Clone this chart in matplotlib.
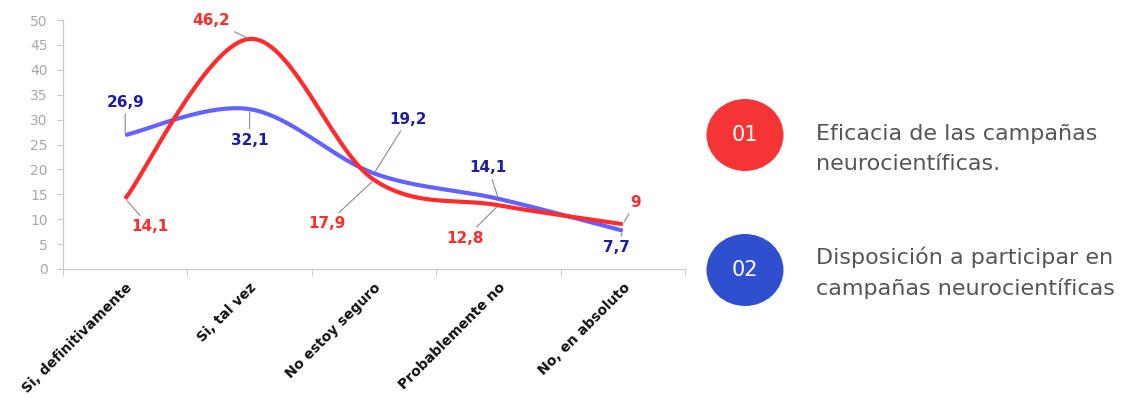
import numpy as np
import matplotlib
matplotlib.use("Agg")
import matplotlib.pyplot as plt
from matplotlib.patches import Ellipse

categories = ["Si, definitivamente", "Si, tal vez", "No estoy seguro", "Probablemente no", "No, en absoluto"]
eficacia = [14.1, 46.2, 17.9, 12.8, 9]
disposicion = [26.9, 32.1, 19.2, 14.1, 7.7]
eficacia_labels = ["14,1", "46,2", "17,9", "12,8", "9"]
disposicion_labels = ["26,9", "32,1", "19,2", "14,1", "7,7"]
legend_texts = ["Eficacia de las campañas\nneurocientíficas.", "Disposición a participar en\ncampañas neurocientíficas"]

RED = "#ff2a2a"
BLUE_LINE = "#6262ff"
BLUE_TXT = "#1c1ca6"
GRAY = "#c8c8c8"


def smooth(xs, ys, n=40):
    xs = np.asarray(xs, float)
    ys = np.asarray(ys, float)
    P = np.column_stack([xs, ys])
    out = []
    for i in range(len(P) - 1):
        p0 = P[i - 1] if i > 0 else P[i]
        p1 = P[i]
        p2 = P[i + 1]
        p3 = P[i + 2] if i + 2 < len(P) else P[i + 1]
        c1 = p1 + (p2 - p0) / 6.0
        c2 = p2 - (p3 - p1) / 6.0
        t = np.linspace(0, 1, n)[:, None]
        seg = (1 - t) ** 3 * p1 + 3 * (1 - t) ** 2 * t * c1 + 3 * (1 - t) * t ** 2 * c2 + t ** 3 * p2
        out.append(seg if i == 0 else seg[1:])
    S = np.vstack(out)
    return S[:, 0], S[:, 1]


fig = plt.figure(figsize=(11.26, 3.98), dpi=100)
ax = fig.add_axes([63 / 1126, 1 - 269 / 398, (685 - 63) / 1126, (269 - 20) / 398])

x = np.arange(len(categories))
sx, sy = smooth(x, disposicion)
ax.plot(sx, sy, color=BLUE_LINE, lw=3, solid_capstyle="butt", zorder=3)
sx, sy = smooth(x, eficacia)
ax.plot(sx, sy, color=RED, lw=3, solid_capstyle="butt", zorder=4)

ax.set_xlim(-0.5, len(categories) - 0.5)
ax.set_ylim(0, 50)
ax.set_yticks(np.arange(0, 51, 5))
ax.set_xticks(x)
ax.set_xticklabels(categories, rotation=45, ha="right", rotation_mode="anchor",
                   fontsize=10, fontweight="bold", color="#111111")
ax.set_xticks(np.arange(-0.5, len(categories), 1), minor=True)
ax.tick_params(axis="x", which="major", length=0, pad=8)
ax.tick_params(axis="x", which="minor", length=5, color=GRAY)
ax.tick_params(axis="y", length=4, color=GRAY, labelcolor="#a8a8a8", labelsize=10, pad=7)
for s in ["top", "right"]:
    ax.spines[s].set_visible(False)
for s in ["left", "bottom"]:
    ax.spines[s].set_color(GRAY)

red_offsets = [(25, -28), (-38, 18), (-47, -44), (-33, -33), (13, 22)]
blue_offsets = [(0, 33), (0, -31), (34, 54), (-10, 31), (-6, -17)]
ap = dict(arrowstyle="-", color="#8a8a8a", lw=0.8, shrinkA=1, shrinkB=2)
for i in range(len(categories)):
    ax.annotate(eficacia_labels[i], (x[i], eficacia[i]), xytext=red_offsets[i],
                textcoords="offset pixels", ha="center", va="center",
                fontsize=11, fontweight="bold", color=RED, arrowprops=ap, zorder=5)
    ax.annotate(disposicion_labels[i], (x[i], disposicion[i]), xytext=blue_offsets[i],
                textcoords="offset pixels", ha="center", va="center",
                fontsize=11, fontweight="bold", color=BLUE_TXT, arrowprops=ap, zorder=5)

# Legend
circle_colors = ["#f53535", "#2f4fcf"]
circle_y = [135, 270]
text_y = [149, 273]
for k in range(2):
    cy = 1 - circle_y[k] / 398
    fig.patches.append(Ellipse((745 / 1126, cy), 77 / 1126, 72 / 398,
                               transform=fig.transFigure, facecolor=circle_colors[k],
                               edgecolor="none"))
    fig.text(745 / 1126, cy, "%02d" % (k + 1), color="white", fontsize=15,
             ha="center", va="center")
    fig.text(816 / 1126, 1 - text_y[k] / 398, legend_texts[k], color="#555555", fontsize=16,
             ha="left", va="center", linespacing=1.6)

fig.savefig("out.png", dpi=100)
